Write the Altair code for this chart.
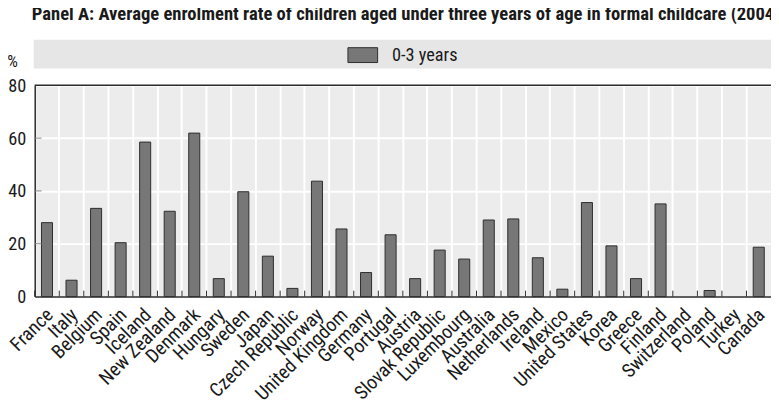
import altair as alt
import pandas as pd

countries = ["France", "Italy", "Belgium", "Spain", "Iceland", "New Zealand", "Denmark",
             "Hungary", "Sweden", "Japan", "Czech Republic", "Norway", "United Kingdom",
             "Germany", "Portugal", "Austria", "Slovak Republic", "Luxembourg", "Australia",
             "Netherlands", "Ireland", "Mexico", "United States", "Korea", "Greece",
             "Finland", "Switzerland", "Poland", "Turkey", "Canada"]
values = [28.0, 6.2, 33.4, 20.4, 58.5, 32.3, 61.9, 6.8, 39.7, 15.3, 3.1, 43.7, 25.6,
          9.1, 23.4, 6.8, 17.6, 14.2, 29.0, 29.4, 14.7, 2.8, 35.6, 19.2, 6.8, 35.1,
          None, 2.3, None, 18.7]
series_name = "0-3 years"
y_ticks = [0, 20, 40, 60, 80]
inner_ticks = [20, 40, 60]
title_text = "Panel A: Average enrolment rate of children aged under three years of age in formal childcare (2004)"

FONT = "Roboto Condensed"
W, H = 744, 213.5

df = pd.DataFrame({"country": countries, "value": values, "series": series_name})
df_b = df.dropna()

xscale = alt.Scale(domain=countries, paddingInner=0, paddingOuter=0)
yscale = alt.Scale(domain=[0, 80], nice=False)

band = alt.Chart(df.head(1)).mark_rect(color="#e6e6e6").encode(
    x=alt.value(-1), x2=alt.value(900), y=alt.value(-46), y2=alt.value(-17)
)

bars = alt.Chart(df_b).mark_bar(
    width=alt.RelativeBandSize(0.45), stroke="#2e2e2e", strokeWidth=1, fill="#777777"
).encode(
    x=alt.X("country:N", scale=xscale, sort=countries,
            axis=alt.Axis(title=None, bandPosition=0, grid=True, gridColor="white",
                          gridWidth=2, ticks=False, domainColor="#2b2b2b", domainWidth=1.5,
                          labelAngle=-45, labelAlign="right", labelBaseline="middle",
                          labelPadding=15, labelOffset=3, labelFontSize=19.5, labelFont=FONT,
                          labelColor="#1a1a1a", labelOverlap=False)),
    y=alt.Y("value:Q", scale=yscale,
            axis=alt.Axis(values=y_ticks, title="%", titleAngle=0, titleX=-23, titleY=-24,
                          titleAlign="center", titleBaseline="middle", titleFontSize=17,
                          titleFontWeight="normal", titleFont=FONT, titleColor="#1a1a1a",
                          grid=True, gridColor="white", gridWidth=2, ticks=False,
                          domainColor="#2b2b2b", domainWidth=1.5, labelPadding=9,
                          labelFontSize=18.5, labelFont=FONT, labelColor="#1a1a1a")),
    fill=alt.Fill("series:N", scale=alt.Scale(range=["#777777"]),
                  legend=alt.Legend(title=None, orient="none", legendX=316, legendY=-46,
                                    symbolType="M-1,-0.5H1V0.5H-1Z", symbolSize=900,
                                    symbolStrokeColor="#2e2e2e", symbolStrokeWidth=1,
                                    labelFontSize=18.5, labelFont=FONT, labelColor="#1a1a1a",
                                    labelOffset=14)),
)

xticks = alt.Chart(df).mark_rule(color="#2b2b2b", strokeWidth=1).encode(
    x=alt.X("country:N", scale=xscale, sort=countries, bandPosition=0),
    y=alt.value(H - 6), y2=alt.value(H),
)

yt = alt.Chart(pd.DataFrame({"v": inner_ticks})).mark_rule(color="#888888", strokeWidth=1).encode(
    y=alt.Y("v:Q", scale=yscale), x=alt.value(0), x2=alt.value(7)
)

top = alt.Chart(pd.DataFrame({"v": [80]})).mark_rule(color="#2b2b2b", strokeWidth=1.5).encode(
    y=alt.Y("v:Q", scale=yscale), x=alt.value(0), x2=alt.value(W + 10)
)

chart = alt.layer(band, bars, xticks, yt, top).properties(
    width=W, height=H,
    autosize=alt.AutoSizeParams(type="none"),
    padding={"left": 27, "top": 76, "right": 0, "bottom": 112},
    title=alt.TitleParams(title_text, anchor="start", frame="group", dx=-3, offset=16,
                          fontSize=18.8, font=FONT, fontWeight="bold", color="#1a1a1a"),
).configure_view(fill="#ececec", strokeWidth=0)

chart.save("out.html", embed_options={"renderer": "svg", "actions": False})
